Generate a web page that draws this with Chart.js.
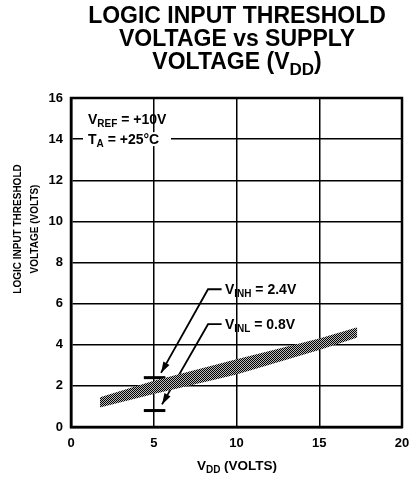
<!DOCTYPE html>
<html lang="en">
<head>
  <meta charset="UTF-8">
  <title>Logic input threshold voltage vs supply voltage</title>
  <script src="https://cdn.jsdelivr.net/npm/chart.js"></script>
  <style>
    html, body { margin: 0; padding: 0; background: #fff; }
    canvas { display: block; }
  </style>
</head>
<body>
  <canvas id="chart" width="409" height="479"></canvas>

  <script>
    // data
    const xTicks = [0, 5, 10, 15, 20];
    const yTicks = [0, 2, 4, 6, 8, 10, 12, 14, 16];
    const bandVdd = [1.75, 5, 10, 15, 17.3];
    const bandHigh = [1.45, 2.25, 3.3, 4.3, 4.85];
    const bandLow = [0.95, 1.6, 2.55, 3.75, 4.35];
    const markerVdd = [4.4, 5.7];
    const vinh = 2.4;
    const vinl = 0.8;
    const arrowHighX = [5.44, 8.28, 9.1];
    const arrowHighY = [2.63, 6.7, 6.7];
    const arrowLowX = [5.5, 8.28, 9.1];
    const arrowLowY = [1.1, 5.0, 5.0];
    const labelHigh = [9.3, 6.7];
    const labelLow = [9.3, 5.0];

    const FONT = '"Liberation Sans", Arial, sans-serif';

    function pts(xs, ys) {
      return xs.map((x, i) => ({ x: x, y: ys[i] }));
    }

    // dotted hatch used by the shaded band
    function hatch() {
      const c = document.createElement('canvas');
      c.width = 2; c.height = 2;
      const g = c.getContext('2d');
      g.fillStyle = '#bbb';
      g.fillRect(0, 0, 2, 2);
      g.fillStyle = '#000';
      g.fillRect(0, 0, 1, 1);
      g.fillRect(1, 1, 1, 1);
      return g.createPattern(c, 'repeat');
    }

    // text with subscripts: parts = [[text, isSub], ...]
    function richText(ctx, parts, x, y, size, align) {
      const main = 'bold ' + size + 'px ' + FONT;
      const sub = 'bold ' + Math.round(size * 0.72) + 'px ' + FONT;
      let w = 0;
      parts.forEach(p => { ctx.font = p[1] ? sub : main; w += ctx.measureText(p[0]).width; });
      let cx = align === 'center' ? x - w / 2 : x;
      ctx.textAlign = 'left';
      ctx.textBaseline = 'middle';
      parts.forEach(p => {
        ctx.font = p[1] ? sub : main;
        ctx.fillText(p[0], cx, y + (p[1] ? size * 0.32 : 0));
        cx += ctx.measureText(p[0]).width;
      });
      return w;
    }

    function arrowHead(ctx, from, to) {
      const a = Math.atan2(to.y - from.y, to.x - from.x);
      const len = 11, half = 3.5;
      ctx.beginPath();
      ctx.moveTo(to.x, to.y);
      ctx.lineTo(to.x - len * Math.cos(a) + half * Math.sin(a), to.y - len * Math.sin(a) - half * Math.cos(a));
      ctx.lineTo(to.x - len * Math.cos(a) - half * Math.sin(a), to.y - len * Math.sin(a) + half * Math.cos(a));
      ctx.closePath();
      ctx.fill();
    }

    const decorations = {
      id: 'decorations',
      afterDatasetsDraw(chart) {
        const ctx = chart.ctx;
        const xs = chart.scales.x, ys = chart.scales.y;
        const area = chart.chartArea;
        ctx.save();
        ctx.fillStyle = '#000';

        // arrowheads
        [[arrowHighX, arrowHighY], [arrowLowX, arrowLowY]].forEach(a => {
          const tip = { x: xs.getPixelForValue(a[0][0]), y: ys.getPixelForValue(a[1][0]) };
          const back = { x: xs.getPixelForValue(a[0][1]), y: ys.getPixelForValue(a[1][1]) };
          arrowHead(ctx, back, tip);
        });

        // conditions box, breaking the 14 V grid line
        ctx.fillStyle = '#fff';
        ctx.fillRect(area.left + 12, ys.getPixelForValue(14) - 7, 88, 14);
        ctx.fillStyle = '#000';
        richText(ctx, [['V', 0], ['REF', 1], [' = +10V', 0]], area.left + 17, 120, 14, 'left');
        richText(ctx, [['T', 0], ['A', 1], [' = +25°C', 0]], area.left + 17, ys.getPixelForValue(14) + 1, 14, 'left');

        richText(ctx, [['V', 0], ['INH', 1], [' = 2.4V', 0]],
          xs.getPixelForValue(labelHigh[0]), ys.getPixelForValue(labelHigh[1]) + 1, 14, 'left');
        richText(ctx, [['V', 0], ['INL', 1], [' = 0.8V', 0]],
          xs.getPixelForValue(labelLow[0]), ys.getPixelForValue(labelLow[1]) + 1, 14, 'left');

        // heavy frame
        ctx.strokeStyle = '#000';
        ctx.lineWidth = 2.5;
        ctx.strokeRect(area.left, area.top, area.right - area.left, area.bottom - area.top);
        ctx.restore();
      },
      afterDraw(chart) {
        const ctx = chart.ctx;
        ctx.save();
        ctx.fillStyle = '#000';
        richText(ctx, [['LOGIC INPUT THRESHOLD', 0]], 237, 17, 23, 'center');
        richText(ctx, [['VOLTAGE vs SUPPLY', 0]], 237, 40, 23, 'center');
        richText(ctx, [['VOLTAGE (V', 0], ['DD', 1], [')', 0]], 237, 63, 23, 'center');

        richText(ctx, [['V', 0], ['DD', 1], [' (VOLTS)', 0]], 237, 466, 13.5, 'center');

        ctx.translate(18, 229);
        ctx.rotate(-Math.PI / 2);
        richText(ctx, [['LOGIC INPUT THRESHOLD', 0]], 0, 0, 10, 'center');
        richText(ctx, [['VOLTAGE (VOLTS)', 0]], 0, 17, 10, 'center');
        ctx.restore();
      }
    };

    const line = (data, width) => ({
      data: data,
      showLine: true,
      borderColor: '#000',
      borderWidth: width,
      pointRadius: 0,
      fill: false
    });

    new Chart(document.getElementById('chart'), {
      type: 'scatter',
      data: {
        datasets: [
          {
            data: pts(bandVdd, bandHigh),
            showLine: true,
            borderWidth: 0,
            pointRadius: 0,
            backgroundColor: hatch(),
            fill: '+1'
          },
          {
            data: pts(bandVdd, bandLow),
            showLine: true,
            borderWidth: 0,
            pointRadius: 0,
            fill: false
          },
          line(pts(markerVdd, [vinh, vinh]), 3),
          line(pts(markerVdd, [vinl, vinl]), 3),
          line(pts(arrowHighX, arrowHighY), 1.8),
          line(pts(arrowLowX, arrowLowY), 1.8)
        ]
      },
      options: {
        responsive: false,
        animation: false,
        layout: { padding: { top: 98, right: 7, left: 0, bottom: 0 } },
        plugins: {
          legend: { display: false },
          tooltip: { enabled: false }
        },
        scales: {
          x: {
            type: 'linear',
            min: 0,
            max: 20,
            afterBuildTicks: s => { s.ticks = xTicks.map(v => ({ value: v })); },
            afterFit: s => { s.height = 52; s.paddingLeft = 0; s.paddingRight = 0; },
            grid: { color: '#000', lineWidth: 1.5, drawTicks: false },
            border: { color: '#000', width: 2.5 },
            ticks: { color: '#000', padding: 9, font: { family: FONT, size: 13, weight: 'bold' } }
          },
          y: {
            min: 0,
            max: 16,
            afterBuildTicks: s => { s.ticks = yTicks.map(v => ({ value: v })); },
            afterFit: s => { s.width = 71; s.paddingTop = 0; s.paddingBottom = 0; },
            grid: { color: '#000', lineWidth: 1.5, drawTicks: false },
            border: { color: '#000', width: 2.5 },
            ticks: { color: '#000', padding: 8, font: { family: FONT, size: 13, weight: 'bold' } }
          }
        }
      },
      plugins: [decorations]
    });
  </script>
</body>
</html>
